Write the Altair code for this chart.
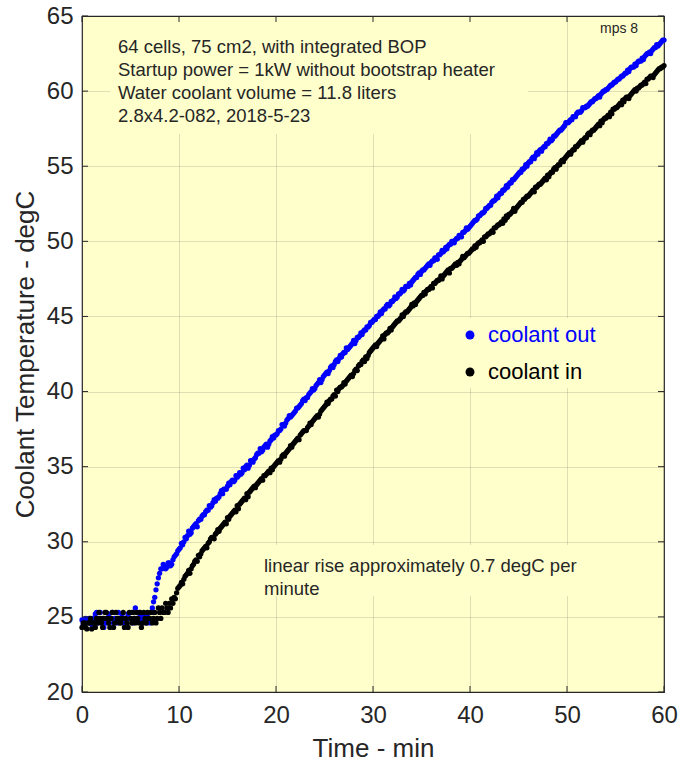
import altair as alt
import pandas as pd

# ---------------- data ----------------
# readings on the quarter-minute, and the readings in between
time_a = [i * 0.25 for i in range(241)]
time_b = [0.125 + i * 0.25 for i in range(240)]

coolant_out_a = [
    24.8, 24.8, 24.6, 24.9, 24.5, 24.9, 25.3, 24.9, 24.6, 24.3,
    24.9, 25.2, 24.9, 24.6, 24.9, 25.3, 24.9, 24.6, 24.9, 25.2,
    24.9, 24.6, 25.6, 24.9, 25.2, 24.6, 24.9, 25.2, 24.6, 25.6,
    26.3, 27.2, 27.9, 28.2, 28.4, 28.3, 28.6, 28.5, 29.0, 29.2,
    29.5, 29.9, 30.0, 30.2, 30.7, 30.6, 31.0, 31.2, 31.4, 31.5,
    31.8, 32.0, 32.1, 32.3, 32.6, 32.7, 32.9, 33.2, 33.2, 33.5,
    33.7, 33.8, 34.1, 34.1, 34.3, 34.6, 34.6, 34.8, 35.1, 35.1,
    35.4, 35.5, 35.8, 35.9, 36.0, 36.3, 36.5, 36.5, 36.8, 36.9,
    37.1, 37.4, 37.5, 37.8, 37.9, 38.2, 38.3, 38.5, 38.7, 38.9,
    39.1, 39.4, 39.4, 39.6, 39.9, 40.2, 40.2, 40.5, 40.8, 40.8,
    41.1, 41.3, 41.4, 41.7, 41.8, 42.1, 42.2, 42.3, 42.6, 42.9,
    42.9, 43.1, 43.4, 43.4, 43.6, 43.9, 44.0, 44.1, 44.3, 44.6,
    44.7, 44.8, 45.0, 45.3, 45.4, 45.5, 45.8, 45.8, 46.0, 46.3,
    46.3, 46.5, 46.8, 46.8, 47.0, 47.2, 47.3, 47.5, 47.6, 47.9,
    48.0, 48.1, 48.3, 48.5, 48.6, 48.7, 48.9, 49.1, 49.2, 49.3,
    49.6, 49.7, 49.8, 50.0, 50.1, 50.2, 50.4, 50.6, 50.7, 50.8,
    51.0, 51.2, 51.4, 51.5, 51.7, 51.9, 52.0, 52.2, 52.4, 52.6,
    52.7, 53.0, 53.1, 53.2, 53.4, 53.7, 53.8, 53.9, 54.1, 54.3,
    54.5, 54.6, 54.8, 55.1, 55.2, 55.3, 55.6, 55.7, 55.8, 56.1,
    56.2, 56.3, 56.5, 56.8, 56.8, 57.0, 57.2, 57.4, 57.5, 57.7,
    57.9, 58.0, 58.1, 58.3, 58.5, 58.6, 58.7, 58.9, 59.0, 59.1,
    59.3, 59.4, 59.5, 59.7, 59.8, 60.0, 60.1, 60.2, 60.4, 60.5,
    60.6, 60.8, 60.9, 61.0, 61.2, 61.4, 61.5, 61.6, 61.8, 61.9,
    62.0, 62.2, 62.3, 62.5, 62.6, 62.7, 62.9, 63.1, 63.1, 63.3,
    63.4,
]
coolant_out_b = [
    24.5, 24.9, 24.8, 24.6, 24.9, 25.2, 24.6, 25.3, 24.9, 24.6,
    24.6, 24.9, 25.3, 24.9, 24.6, 24.9, 25.2, 24.9, 24.6, 24.9,
    25.3, 24.9, 24.9, 25.3, 24.9, 25.2, 24.6, 24.9, 25.3, 26.0,
    26.8, 27.6, 28.2, 28.5, 28.2, 28.6, 28.4, 28.8, 29.1, 29.4,
    29.6, 29.8, 30.3, 30.4, 30.5, 30.9, 31.1, 31.0, 31.5, 31.7,
    31.8, 32.1, 32.4, 32.4, 32.8, 32.9, 33.0, 33.4, 33.5, 33.5,
    33.9, 34.0, 34.0, 34.4, 34.4, 34.5, 34.9, 35.0, 34.9, 35.4,
    35.3, 35.6, 35.9, 36.2, 36.1, 36.4, 36.3, 36.7, 37.0, 37.1,
    37.2, 37.4, 37.8, 37.7, 38.1, 38.4, 38.4, 38.6, 38.9, 39.0,
    39.2, 39.5, 39.6, 39.8, 40.0, 40.1, 40.4, 40.6, 40.6, 41.0,
    41.2, 41.2, 41.6, 41.6, 42.0, 42.0, 42.4, 42.5, 42.6, 42.8,
    43.0, 43.2, 43.2, 43.6, 43.7, 43.8, 44.1, 44.3, 44.4, 44.6,
    44.8, 45.0, 45.1, 45.2, 45.5, 45.7, 45.7, 46.0, 46.1, 46.2,
    46.5, 46.6, 46.7, 47.0, 47.0, 47.1, 47.4, 47.6, 47.8, 47.8,
    48.1, 48.2, 48.4, 48.4, 48.7, 48.9, 48.8, 49.1, 49.4, 49.4,
    49.5, 49.8, 50.0, 49.9, 50.2, 50.4, 50.3, 50.6, 50.9, 50.9,
    51.1, 51.3, 51.4, 51.7, 51.8, 51.9, 52.2, 52.3, 52.4, 52.7,
    52.8, 52.9, 53.2, 53.4, 53.5, 53.6, 53.9, 54.1, 54.2, 54.4,
    54.6, 54.8, 54.9, 55.0, 55.3, 55.5, 55.5, 55.9, 56.0, 56.0,
    56.3, 56.5, 56.6, 56.7, 57.0, 57.1, 57.3, 57.4, 57.6, 57.9,
    57.9, 58.1, 58.3, 58.3, 58.6, 58.6, 58.9, 58.9, 59.0, 59.2,
    59.3, 59.5, 59.6, 59.6, 59.9, 60.0, 60.1, 60.3, 60.4, 60.6,
    60.7, 60.8, 61.0, 61.1, 61.2, 61.3, 61.6, 61.6, 61.7, 62.0,
    62.0, 62.1, 62.4, 62.5, 62.5, 62.8, 62.9, 63.0, 63.2, 63.4,
]

coolant_in_a = [
    24.3, 24.6, 24.2, 24.6, 24.2, 24.6, 24.9, 25.3, 24.6, 24.9,
    25.3, 24.6, 24.9, 24.3, 25.3, 24.9, 24.6, 25.3, 24.9, 24.3,
    24.9, 25.3, 24.6, 24.9, 25.3, 24.6, 24.9, 25.3, 24.9, 24.6,
    25.3, 24.9, 25.3, 25.6, 25.3, 25.6, 25.9, 26.2, 26.3, 26.6,
    27.0, 27.3, 27.5, 27.8, 28.1, 28.2, 28.5, 28.8, 29.1, 29.2,
    29.5, 29.7, 29.9, 30.2, 30.3, 30.5, 30.8, 30.9, 31.1, 31.3,
    31.6, 31.7, 31.9, 32.1, 32.4, 32.5, 32.7, 32.9, 33.2, 33.3,
    33.5, 33.7, 33.8, 34.0, 34.2, 34.4, 34.5, 34.7, 34.9, 35.0,
    35.2, 35.4, 35.5, 35.8, 35.9, 36.1, 36.4, 36.5, 36.7, 36.9,
    37.1, 37.3, 37.4, 37.6, 37.9, 38.0, 38.2, 38.4, 38.5, 38.8,
    39.0, 39.3, 39.4, 39.5, 39.8, 40.1, 40.2, 40.3, 40.6, 40.7,
    40.9, 41.1, 41.2, 41.5, 41.7, 41.8, 42.1, 42.3, 42.4, 42.7,
    42.9, 43.1, 43.2, 43.4, 43.7, 43.8, 43.9, 44.2, 44.3, 44.5,
    44.7, 44.8, 45.1, 45.2, 45.3, 45.5, 45.8, 45.9, 46.0, 46.2,
    46.4, 46.6, 46.7, 46.8, 47.0, 47.2, 47.3, 47.4, 47.7, 47.7,
    47.9, 48.1, 48.2, 48.3, 48.5, 48.6, 48.7, 49.0, 49.0, 49.2,
    49.3, 49.5, 49.7, 49.8, 49.9, 50.1, 50.3, 50.4, 50.5, 50.7,
    50.9, 51.0, 51.1, 51.3, 51.5, 51.7, 51.8, 51.9, 52.2, 52.2,
    52.4, 52.6, 52.8, 52.9, 53.0, 53.2, 53.4, 53.6, 53.7, 53.8,
    54.0, 54.2, 54.4, 54.5, 54.6, 54.9, 55.0, 55.1, 55.4, 55.5,
    55.7, 55.9, 56.0, 56.1, 56.3, 56.5, 56.7, 56.8, 56.9, 57.2,
    57.3, 57.4, 57.6, 57.8, 58.0, 58.1, 58.2, 58.4, 58.6, 58.8,
    58.9, 59.0, 59.2, 59.4, 59.5, 59.6, 59.7, 59.9, 60.1, 60.2,
    60.3, 60.4, 60.6, 60.8, 60.9, 61.0, 61.1, 61.3, 61.5, 61.6,
    61.7,
]
coolant_in_b = [
    24.6, 24.3, 24.6, 24.9, 24.6, 24.3, 24.6, 24.9, 24.3, 25.3,
    24.9, 24.3, 25.3, 24.6, 24.9, 24.6, 24.9, 24.3, 24.6, 25.3,
    24.6, 24.9, 25.3, 24.6, 24.3, 25.3, 24.6, 24.9, 25.3, 24.9,
    24.6, 25.6, 24.9, 25.3, 25.9, 25.3, 25.6, 25.9, 26.2, 26.9,
    27.1, 27.2, 27.7, 27.9, 27.9, 28.4, 28.7, 28.7, 29.0, 29.4,
    29.6, 29.6, 30.0, 30.3, 30.2, 30.6, 30.7, 31.0, 31.2, 31.2,
    31.5, 31.8, 32.0, 32.0, 32.2, 32.6, 32.8, 32.8, 33.0, 33.4,
    33.6, 33.6, 33.9, 34.1, 34.1, 34.4, 34.6, 34.6, 34.8, 35.1,
    35.3, 35.3, 35.7, 35.7, 36.0, 36.2, 36.3, 36.6, 36.8, 36.8,
    37.2, 37.4, 37.4, 37.7, 37.8, 38.1, 38.3, 38.3, 38.7, 38.9,
    39.1, 39.2, 39.5, 39.7, 39.7, 40.0, 40.3, 40.4, 40.5, 40.8,
    41.0, 41.0, 41.4, 41.4, 41.8, 42.0, 42.0, 42.2, 42.6, 42.8,
    43.0, 43.0, 43.3, 43.5, 43.5, 43.9, 44.0, 44.1, 44.4, 44.6,
    44.7, 44.9, 45.0, 45.3, 45.4, 45.6, 45.7, 45.8, 46.1, 46.3,
    46.4, 46.5, 46.8, 46.9, 46.9, 47.2, 47.4, 47.5, 47.5, 47.8,
    48.0, 47.9, 48.2, 48.4, 48.4, 48.5, 48.8, 48.9, 49.1, 49.2,
    49.4, 49.5, 49.6, 49.9, 50.0, 50.0, 50.3, 50.5, 50.6, 50.6,
    50.9, 51.1, 51.2, 51.2, 51.4, 51.6, 51.8, 52.0, 52.0, 52.3,
    52.5, 52.6, 52.8, 53.0, 53.1, 53.3, 53.3, 53.6, 53.8, 53.9,
    54.1, 54.1, 54.3, 54.6, 54.8, 54.8, 55.1, 55.3, 55.3, 55.6,
    55.8, 55.8, 56.1, 56.3, 56.4, 56.6, 56.6, 56.9, 57.1, 57.1,
    57.4, 57.5, 57.7, 57.7, 57.9, 58.2, 58.3, 58.3, 58.5, 58.8,
    58.9, 59.1, 59.1, 59.3, 59.6, 59.5, 59.8, 60.0, 60.0, 60.2,
    60.4, 60.5, 60.5, 60.8, 61.0, 60.9, 61.2, 61.4, 61.5, 61.6,
]

series_names = ["coolant out", "coolant in"]
series_colors = ["#0000FF", "#000000"]
x_ticks = [0, 10, 20, 30, 40, 50, 60]
y_ticks = [20, 25, 30, 35, 40, 45, 50, 55, 60, 65]

note_lines = [
    "64 cells, 75 cm2, with integrated BOP",
    "Startup power = 1kW without bootstrap heater",
    "Water coolant volume = 11.8 liters",
    "2.8x4.2-082,  2018-5-23",
]
rise_lines = ["linear rise approximately 0.7 degC per", "minute"]
corner_tag = "mps 8"

# ---------------- build ----------------
W, H = 582, 676
BG = "#FFFFCC"
INK = "#262626"
FONT = "Liberation Sans"

t_all = time_a + time_b + time_a + time_b
v_all = coolant_out_a + coolant_out_b + coolant_in_a + coolant_in_b
s_all = ([series_names[0]] * (len(time_a) + len(time_b))
         + [series_names[1]] * (len(time_a) + len(time_b)))
df = pd.DataFrame({"t": t_all, "temp": v_all, "series": s_all})

xscale = alt.Scale(domain=[0, 60], nice=False, zero=False)
yscale = alt.Scale(domain=[20, 65], nice=False, zero=False)

xaxis = alt.Axis(values=x_ticks, title="Time - min", grid=True, ticks=False, tickSize=0,
                 domain=False, labelFontSize=24, labelPadding=11, titleFontSize=26,
                 titlePadding=8, labelFlush=False)
yaxis = alt.Axis(values=y_ticks, title="Coolant Temperature - degC", grid=True, ticks=False,
                 tickSize=0, domain=False, labelFontSize=24, labelPadding=9,
                 titleFontSize=26, titlePadding=8, labelFlush=False)

points = alt.Chart(df).mark_circle(size=28, opacity=1).encode(
    x=alt.X("t:Q", scale=xscale, axis=xaxis),
    y=alt.Y("temp:Q", scale=yscale, axis=yaxis),
    color=alt.Color("series:N", scale=alt.Scale(domain=series_names, range=series_colors),
                    legend=None),
)

# boxes behind annotations (hide grid like the original text boxes)
def cover(x1, x2, y1, y2):
    return alt.Chart().mark_rect(color=BG).encode(
        x=alt.value(x1), x2=alt.value(x2), y=alt.value(y1), y2=alt.value(y2))

covers = [cover(28, 446, 1, 118), cover(373, 540, 302, 372), cover(172, 508, 529, 580)]

notes = alt.Chart().mark_text(align="left", baseline="alphabetic", fontSize=18.5, lineHeight=23,
                              font=FONT, color=INK).encode(
    x=alt.value(36), y=alt.value(37), text=alt.value(note_lines))
rise = alt.Chart().mark_text(align="left", baseline="alphabetic", fontSize=18.5, lineHeight=23,
                             font=FONT, color=INK).encode(
    x=alt.value(182), y=alt.value(556), text=alt.value(rise_lines))
tag = alt.Chart().mark_text(align="left", baseline="alphabetic", fontSize=14, font=FONT,
                            color=INK).encode(
    x=alt.value(518), y=alt.value(17), text=alt.value(corner_tag))

leg_dot_out = alt.Chart().mark_circle(size=80, opacity=1, color=series_colors[0]).encode(
    x=alt.value(388), y=alt.value(319))
leg_dot_in = alt.Chart().mark_circle(size=80, opacity=1, color=series_colors[1]).encode(
    x=alt.value(388), y=alt.value(356))
leg_txt_out = alt.Chart().mark_text(align="left", baseline="alphabetic", fontSize=22, font=FONT,
                                    color=series_colors[0]).encode(
    x=alt.value(406), y=alt.value(326), text=alt.value(series_names[0]))
leg_txt_in = alt.Chart().mark_text(align="left", baseline="alphabetic", fontSize=22, font=FONT,
                                   color=series_colors[1]).encode(
    x=alt.value(406), y=alt.value(363), text=alt.value(series_names[1]))

# inward ticks on all four sides
xt = pd.DataFrame({"v": x_ticks})
yt = pd.DataFrame({"v": y_ticks})
tick_style = dict(color=INK, strokeWidth=1)
tb = alt.Chart(xt).mark_rule(**tick_style).encode(
    x=alt.X("v:Q", scale=xscale), y=alt.value(H), y2=alt.value(H - 6))
tt = alt.Chart(xt).mark_rule(**tick_style).encode(
    x=alt.X("v:Q", scale=xscale), y=alt.value(0), y2=alt.value(6))
tl = alt.Chart(yt).mark_rule(**tick_style).encode(
    y=alt.Y("v:Q", scale=yscale), x=alt.value(0), x2=alt.value(6))
tr = alt.Chart(yt).mark_rule(**tick_style).encode(
    y=alt.Y("v:Q", scale=yscale), x=alt.value(W), x2=alt.value(W - 6))

chart = alt.layer(
    points, *covers, notes, rise, tag, leg_dot_out, leg_dot_in, leg_txt_out, leg_txt_in,
    tb, tt, tl, tr,
).properties(
    width=W, height=H,
    autosize=alt.AutoSizeParams(type="none"),
    padding={"left": 82, "top": 16, "right": 16, "bottom": 71},
    background="white",
).configure_view(
    fill=BG, stroke=INK, strokeWidth=1.2,
).configure_axis(
    labelFont=FONT, titleFont=FONT, labelColor=INK, titleColor=INK,
    titleFontWeight="normal", gridColor=INK, gridOpacity=0.15, gridWidth=1,
)

chart.save("out.html", embed_options={"renderer": "svg", "actions": False})
